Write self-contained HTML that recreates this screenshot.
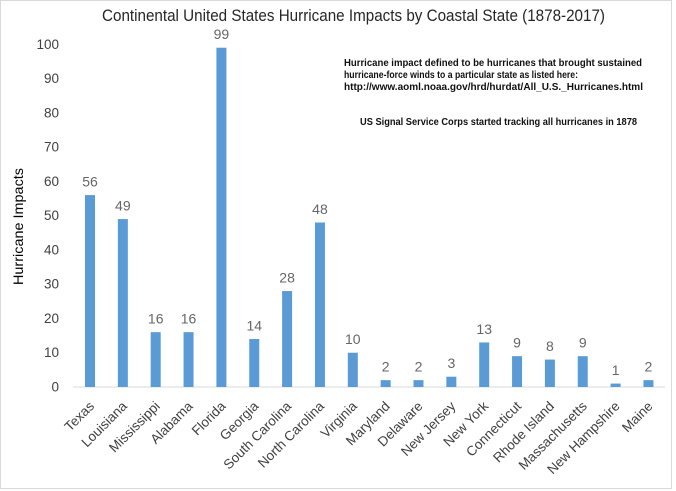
<!DOCTYPE html>
<html>
<head>
<meta charset="utf-8">
<style>
  html, body { margin: 0; padding: 0; background: #ffffff; }
  svg { display: block; font-family: "Liberation Sans", Arial, sans-serif; }
</style>
</head>
<body>
<svg width="676" height="491" viewBox="0 0 676 491" xmlns="http://www.w3.org/2000/svg">
  <rect x="0" y="0" width="676" height="491" fill="#ffffff"/>
  <rect x="0.5" y="0.5" width="671" height="488" fill="#ffffff" stroke="#d9d9d9" stroke-width="1"/>

  <!-- Title -->
  <text x="102" y="21" font-size="17" fill="#262626" textLength="503" lengthAdjust="spacingAndGlyphs">Continental United States Hurricane Impacts by Coastal State (1878-2017)</text>

  <!-- Annotation -->
  <g font-weight="bold" font-size="10" fill="#111111">
    <text x="344" y="66" textLength="298" lengthAdjust="spacingAndGlyphs">Hurricane impact defined to be hurricanes that brought sustained</text>
    <text x="344" y="78" textLength="234" lengthAdjust="spacingAndGlyphs">hurricane-force winds to a particular state as listed here:</text>
    <text x="344" y="90" textLength="299" lengthAdjust="spacingAndGlyphs">http://www.aoml.noaa.gov/hrd/hurdat/All_U.S._Hurricanes.html</text>
    <text x="360" y="125" textLength="277" lengthAdjust="spacingAndGlyphs">US Signal Service Corps started tracking all hurricanes in 1878</text>
  </g>

  <!-- Y axis title -->
  <text transform="translate(23,226.5) rotate(-90)" text-anchor="middle" font-size="14" fill="#000000" textLength="117" lengthAdjust="spacingAndGlyphs">Hurricane Impacts</text>

  <!-- Y tick labels -->
  <g font-size="13.5" fill="#404040" text-anchor="end">
    <text x="59" y="391.5">0</text>
    <text x="59" y="357.2">10</text>
    <text x="59" y="323.0">20</text>
    <text x="59" y="288.7">30</text>
    <text x="59" y="254.4">40</text>
    <text x="59" y="220.2">50</text>
    <text x="59" y="185.9">60</text>
    <text x="59" y="151.6">70</text>
    <text x="59" y="117.3">80</text>
    <text x="59" y="83.1">90</text>
    <text x="59" y="48.8">100</text>
  </g>

  <!-- Axis line -->
  <line x1="73" y1="387" x2="665" y2="387" stroke="#d9d9d9" stroke-width="1"/>

  <!-- Bars -->
  <g fill="#5b9bd5">
    <rect x="85.00"  y="195.09" width="10" height="191.91"/>
    <rect x="117.85" y="219.08" width="10" height="167.92"/>
    <rect x="150.70" y="332.17" width="10" height="54.83"/>
    <rect x="183.55" y="332.17" width="10" height="54.83"/>
    <rect x="216.40" y="47.73"  width="10" height="339.27"/>
    <rect x="249.25" y="339.02" width="10" height="47.98"/>
    <rect x="282.10" y="291.04" width="10" height="95.96"/>
    <rect x="314.95" y="222.50" width="10" height="164.50"/>
    <rect x="347.80" y="352.73" width="10" height="34.27"/>
    <rect x="380.65" y="380.15" width="10" height="6.85"/>
    <rect x="413.50" y="380.15" width="10" height="6.85"/>
    <rect x="446.35" y="376.72" width="10" height="10.28"/>
    <rect x="479.20" y="342.45" width="10" height="44.55"/>
    <rect x="512.05" y="356.16" width="10" height="30.84"/>
    <rect x="544.90" y="359.58" width="10" height="27.42"/>
    <rect x="577.75" y="356.16" width="10" height="30.84"/>
    <rect x="610.60" y="383.57" width="10" height="3.43"/>
    <rect x="643.45" y="380.15" width="10" height="6.85"/>
  </g>

  <!-- Data labels -->
  <g font-size="14" fill="#666666" text-anchor="middle">
    <text x="90.00"  y="186.6">56</text>
    <text x="122.85" y="210.6">49</text>
    <text x="155.70" y="323.7">16</text>
    <text x="188.55" y="323.7">16</text>
    <text x="221.40" y="39.2">99</text>
    <text x="254.25" y="330.5">14</text>
    <text x="287.10" y="282.5">28</text>
    <text x="319.95" y="214.0">48</text>
    <text x="352.80" y="344.2">10</text>
    <text x="385.65" y="371.6">2</text>
    <text x="418.50" y="371.6">2</text>
    <text x="451.35" y="368.2">3</text>
    <text x="484.20" y="333.9">13</text>
    <text x="517.05" y="347.7">9</text>
    <text x="549.90" y="351.1">8</text>
    <text x="582.75" y="347.7">9</text>
    <text x="615.60" y="375.1">1</text>
    <text x="648.45" y="371.6">2</text>
  </g>

  <!-- X category labels -->
  <g font-size="13.5" fill="#404040" text-anchor="end">
    <text transform="translate(95.00,407) rotate(-45)">Texas</text>
    <text transform="translate(127.85,407) rotate(-45)">Louisiana</text>
    <text transform="translate(160.70,407) rotate(-45)">Mississippi</text>
    <text transform="translate(193.55,407) rotate(-45)">Alabama</text>
    <text transform="translate(226.40,407) rotate(-45)">Florida</text>
    <text transform="translate(259.25,407) rotate(-45)">Georgia</text>
    <text transform="translate(292.10,407) rotate(-45)">South Carolina</text>
    <text transform="translate(324.95,407) rotate(-45)">North Carolina</text>
    <text transform="translate(357.80,407) rotate(-45)">Virginia</text>
    <text transform="translate(390.65,407) rotate(-45)">Maryland</text>
    <text transform="translate(423.50,407) rotate(-45)">Delaware</text>
    <text transform="translate(456.35,407) rotate(-45)">New Jersey</text>
    <text transform="translate(489.20,407) rotate(-45)">New York</text>
    <text transform="translate(522.05,407) rotate(-45)">Connecticut</text>
    <text transform="translate(554.90,407) rotate(-45)">Rhode Island</text>
    <text transform="translate(587.75,407) rotate(-45)">Massachusetts</text>
    <text transform="translate(620.60,407) rotate(-45)">New Hampshire</text>
    <text transform="translate(653.45,407) rotate(-45)">Maine</text>
  </g>
</svg>
</body>
</html>
